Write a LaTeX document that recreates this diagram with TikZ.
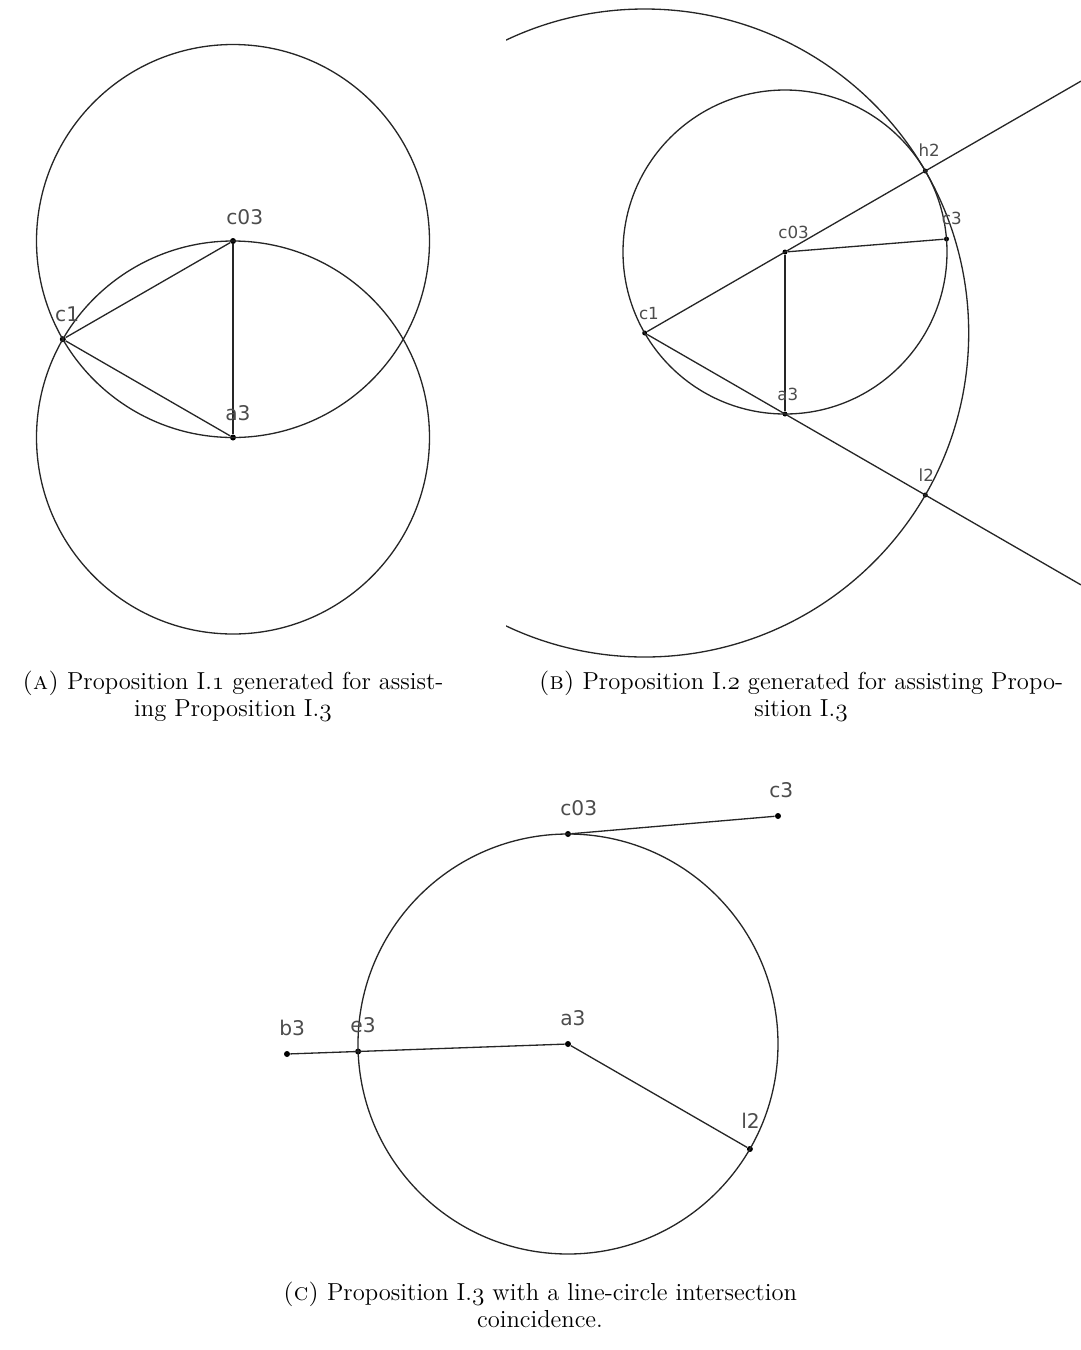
\documentclass[tikz,border=0pt]{standalone}
\usepackage{fontspec}
\newfontfamily\ptfont{DejaVu Sans}
\newcommand\osf[1]{{\usefont{OML}{cmm}{m}{it}#1}}
\usetikzlibrary{calc}

\begin{document}
\begin{tikzpicture}[
  x=0.02cm, y=-0.02cm,
  circ/.style={draw=black!85, line width=0.75pt},
  seg/.style={draw=black!85, line width=0.75pt},
  dot/.style={circle, fill=black, inner sep=0pt, minimum size=0.12cm},
  dotB/.style={circle, fill=black, inner sep=0pt, minimum size=0.1cm},
  lbl/.style={font=\ptfont\fontsize{11.5}{12}\selectfont, text=black!70,
              inner sep=0pt, anchor=base west},
  lblB/.style={lbl, font=\ptfont\fontsize{9.5}{10}\selectfont},
  capt/.style={font=\fontsize{14}{15.4}\selectfont, align=center, inner sep=0pt},
]
\useasboundingbox (0,0) rectangle (1081,1350);

% ---- (a) Proposition I.1 ----
\node[dot] (Ac03) at (233,241) {};
\node[dot] (Aa3) at (233,437.5) {};
\node[dot] (Ac1) at (62.8,339.2) {};

\draw[circ] (Ac03) circle[radius=196.5];
\draw[circ] (Aa3) circle[radius=196.5];

\draw[seg] (Ac1) -- (Ac03);
\draw[seg] (Ac1) -- (Aa3);
\draw[seg] (Ac03) -- (Aa3);

\node[lbl] (Ac03l) at ($(Ac03)+(-7,-17)$) {c03};
\node[lbl] (Aa3l) at ($(Aa3)+(-8,-17)$) {a3};
\node[lbl] (Ac1l) at ($(Ac1)+(-8,-18)$) {c1};

\node[capt] (capA) at (233,696) {\textsc{(a)} Proposition I.\osf{1} generated for assist-\\ing Proposition I.\osf{3}};

% ---- (b) Proposition I.2 ----
\node[dotB] (Bc03) at (785,252) {};
\node[dotB] (Ba3) at (785,414) {};
\node[dotB] (Bc1) at (644.7,333) {};
\node[dotB] (Bh2) at (925.3,171) {};
\node[dotB] (Bl2) at (925.3,495) {};
\node[dotB] (Bc3) at (946.5,239) {};
\coordinate (Bhend) at ($(Bc1)!1.555!(Bh2)$);
\coordinate (Blend) at ($(Bc1)!1.555!(Bl2)$);

\draw[circ] (Bc03) circle[radius=162];
\begin{scope}
  \clip (506,0) rectangle (1081,700);
  \draw[circ] (Bc1) circle[radius=324];
\end{scope}

\draw[seg] (Bc1) -- (Bhend);
\draw[seg] (Bc1) -- (Blend);
\draw[seg] (Bc03) -- (Ba3);
\draw[seg] (Bc03) -- (Bc3);

\node[lblB] (Bc03l) at ($(Bc03)+(-7,-14)$) {c03};
\node[lblB] (Ba3l) at ($(Ba3)+(-8,-14)$) {a3};
\node[lblB] (Bc1l) at ($(Bc1)+(-6,-14)$) {c1};
\node[lblB] (Bh2l) at ($(Bh2)+(-7,-15)$) {h2};
\node[lblB] (Bc3l) at ($(Bc3)+(-5,-15)$) {c3};
\node[lblB] (Bl2l) at ($(Bl2)+(-7,-14)$) {l2};

\node[capt] (capB) at (801,696) {\textsc{(b)} Proposition I.\osf{2} generated for assisting Propo-\\sition I.\osf{3}};

% ---- (c) Proposition I.3 ----
\node[dot] (Ca3) at (568,1044) {};
\node[dot] (Cc03) at (568,834) {};
\node[dot] (Cc3) at (778,816) {};
\node[dot] (Cb3) at (287,1054) {};
\node[dot] (Ce3) at (358.1,1051.5) {};
\node[dot] (Cl2) at (749.9,1149) {};

\draw[circ] (Ca3) circle[radius=210];

\draw[seg] (Cc03) -- (Cc3);
\draw[seg] (Cb3) -- (Ca3);
\draw[seg] (Ca3) -- (Cl2);

\node[lbl] (Cc03l) at ($(Cc03)+(-8,-19)$) {c03};
\node[lbl] (Cc3l) at ($(Cc3)+(-9,-19)$) {c3};
\node[lbl] (Ca3l) at ($(Ca3)+(-8,-19)$) {a3};
\node[lbl] (Cb3l) at ($(Cb3)+(-8,-19)$) {b3};
\node[lbl] (Ce3l) at ($(Ce3)+(-8,-19)$) {e3};
\node[lbl] (Cl2l) at ($(Cl2)+(-9,-21)$) {l2};

\node[capt] (capC) at (540,1305) {\textsc{(c)} Proposition I.\osf{3} with a line-circle intersection\\coincidence.};

\end{tikzpicture}
\end{document}
